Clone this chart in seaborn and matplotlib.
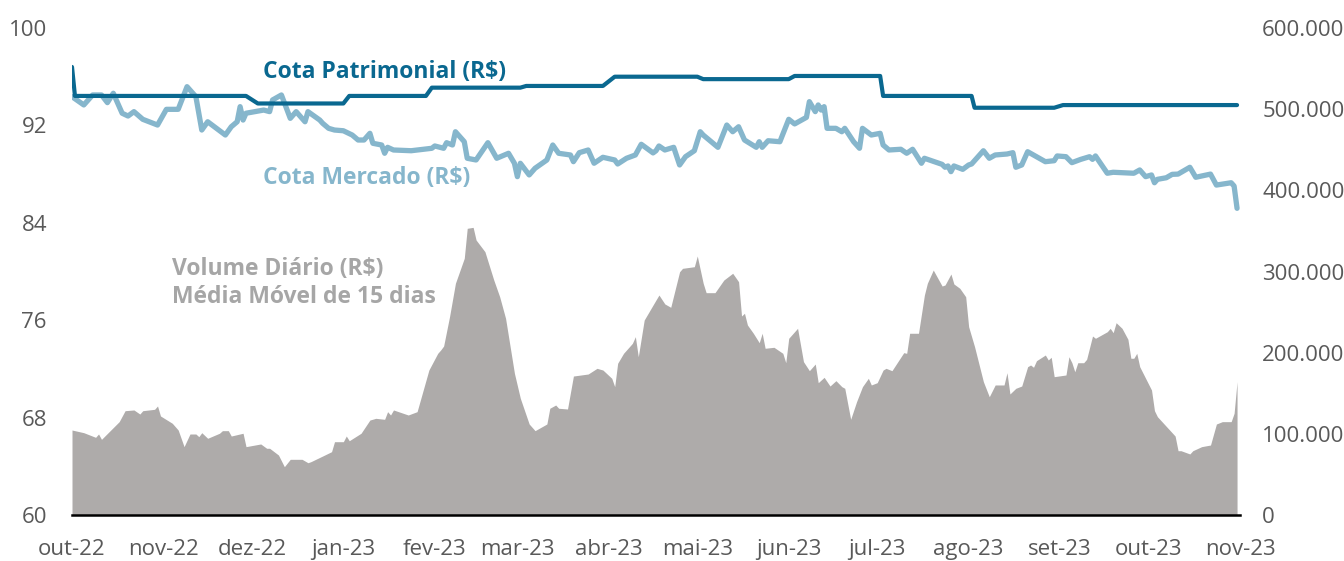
"""
Cota Patrimonial x Cota Mercado x Volume diário (média móvel 15 dias)
"""

import pandas as pd
import matplotlib
matplotlib.use('Agg')  # Non-interactive backend
import matplotlib.pyplot as plt
from matplotlib.ticker import FuncFormatter
import seaborn as sns

# Dias contados a partir de 01/10/2022
START = pd.Timestamp("2022-10-01")

patrimonial_day = [0, 1, 59, 63, 92, 94, 120, 122, 152, 154, 180, 184, 212, 214,
                   243, 245, 274, 275, 305, 306, 333, 336, 395]
patrimonial_value = [96.8, 94.42, 94.42, 93.8, 93.8, 94.42, 94.42, 95.1, 95.1, 95.24,
                     95.24, 96.0, 96.0, 95.8, 95.8, 96.06, 96.06, 94.42, 94.42, 93.45,
                     93.45, 93.67, 93.67]

mercado_day = [0, 4, 7, 10, 12, 14, 17, 19, 21, 24,
               29, 32, 36, 39, 42, 44, 46, 52, 54, 56,
               57, 58, 59, 65, 67, 68, 71, 74, 76, 79,
               80, 84, 85, 87, 89, 92, 95, 97, 99, 101,
               102, 105, 106, 107, 109, 115, 122, 123, 126, 127,
               129, 130, 133, 134, 137, 141, 144, 148, 150, 151,
               152, 155, 157, 161, 163, 165, 169, 170, 172, 175,
               177, 180, 184, 185, 188, 191, 193, 197, 198, 199,
               201, 204, 206, 208, 211, 213, 214, 219, 222, 224,
               226, 228, 232, 233, 234, 236, 240, 243, 245, 249,
               250, 252, 253, 254, 255, 256, 259, 261, 262, 265,
               267, 268, 271, 274, 275, 277, 281, 283, 285, 288,
               289, 295, 296, 297, 298, 299, 302, 304, 305, 309,
               311, 313, 317, 319, 320, 322, 324, 326, 330, 333,
               334, 337, 339, 342, 345, 346, 347, 351, 353, 360,
               362, 364, 366, 367, 368, 371, 373, 375, 379, 381,
               386, 388, 393, 394, 395]
mercado_value = [94.36, 93.68, 94.5, 94.5, 93.87, 94.64, 93.0, 92.77, 93.13, 92.5,
                 92.03, 93.32, 93.32, 95.18, 94.36, 91.62, 92.3, 91.21, 91.89, 92.3,
                 93.54, 92.44, 93.0, 93.26, 93.13, 94.09, 94.5, 92.58, 93.13, 92.3,
                 93.13, 92.44, 92.17, 91.76, 91.62, 91.56, 91.21, 90.8, 90.8, 91.35,
                 90.53, 90.39, 89.71, 90.2, 89.98, 89.92, 90.12, 90.31, 90.12, 90.58,
                 90.39, 91.48, 90.66, 89.3, 89.16, 90.58, 89.3, 89.71, 88.89, 87.79,
                 88.89, 87.93, 88.48, 89.16, 90.39, 89.71, 89.57, 89.02, 89.76, 89.98,
                 88.89, 89.38, 89.16, 88.83, 89.3, 89.57, 90.45, 89.74, 89.92, 90.31,
                 89.98, 90.2, 88.75, 89.43, 89.92, 91.48, 91.21, 90.2, 92.03, 91.48,
                 91.89, 90.8, 90.2, 90.66, 90.2, 90.74, 90.66, 92.5, 92.12, 92.66,
                 93.95, 93.13, 93.68, 93.26, 93.54, 91.76, 91.76, 91.48, 91.76, 90.66,
                 90.12, 91.76, 91.21, 91.35, 90.39, 89.98, 90.04, 89.71, 90.04, 88.89,
                 89.3, 88.8, 88.56, 88.67, 88.2, 88.67, 88.39, 88.75, 88.83, 89.92,
                 89.3, 89.57, 89.65, 89.76, 88.56, 88.75, 89.84, 89.57, 89.02, 89.1,
                 89.49, 89.43, 88.94, 89.21, 89.43, 89.21, 89.49, 88.07, 88.15, 88.07,
                 88.34, 87.79, 87.93, 87.29, 87.57, 87.7, 87.98, 88.0, 88.56, 87.74,
                 88.0, 87.1, 87.29, 87.02, 85.19]

volume_day = [0, 4, 8, 9, 10, 16, 18, 21, 23, 24,
              28, 29, 30, 34, 36, 38, 40, 42, 43, 44,
              46, 50, 51, 53, 54, 58, 59, 64, 66, 67,
              70, 72, 74, 78, 80, 81, 85, 88, 89, 92,
              93, 94, 98, 101, 103, 106, 107, 108, 109, 114,
              117, 121, 124, 125, 126, 128, 130, 133, 134, 136,
              137, 140, 143, 145, 147, 150, 152, 155, 157, 161,
              162, 164, 165, 168, 170, 175, 178, 180, 183, 184,
              185, 187, 190, 191, 192, 194, 198, 199, 201, 203,
              206, 207, 211, 212, 214, 215, 218, 221, 224, 226,
              227, 228, 229, 231, 233, 234, 235, 238, 241, 242,
              243, 246, 248, 250, 252, 253, 255, 257, 259, 261,
              262, 264, 266, 268, 270, 271, 273, 275, 276, 278,
              280, 282, 283, 284, 287, 289, 290, 292, 295, 296,
              298, 299, 301, 303, 304, 306, 309, 311, 313, 316,
              317, 318, 320, 322, 324, 325, 326, 327, 330, 331,
              332, 333, 337, 338, 339, 340, 341, 343, 344, 346,
              347, 351, 352, 353, 354, 356, 358, 359, 360, 361,
              362, 366, 367, 368, 374, 375, 376, 379, 380, 383,
              386, 388, 390, 393, 394, 395]
# volume em milhares de R$
volume_mil = [104.7, 101.4, 95.7, 99.8, 93.2, 115, 128.5, 129.4, 124.4, 128.5,
              130.2, 134.3, 122, 113, 104.7, 84.2, 99.8, 99.8, 96.5, 101.4,
              94.5, 100.7, 103.9, 103.9, 97.3, 100.7, 84.2, 87.5, 82.2, 82.2,
              73.9, 59.5, 68.6, 68.6, 64.4, 65.7, 72.7, 78, 90.3, 90.3,
              97.3, 91.5, 100.7, 117, 119.1, 117.9, 127.3, 123.2, 129.4, 123.2,
              127.3, 178.6, 199.2, 203.3, 208.2, 244.3, 285.5, 316.3, 353.2, 354.4,
              338.8, 324.4, 289.5, 268.9, 242.3, 174.6, 143.8, 112.1, 103.9, 112.1,
              131.5, 135.5, 131.5, 130.6, 171.2, 173.7, 180.7, 178.6, 168.4, 158.1,
              186.9, 199.2, 211.5, 219.7, 195, 240.2, 264.9, 271, 260, 255.9,
              299.7, 303.9, 305.9, 319.1, 285.5, 273.9, 273.9, 289.5, 297.8, 287.4,
              245.2, 248.5, 234.1, 223.9, 212.3, 223.9, 205.4, 206.6, 199.2, 187.6,
              217.7, 230, 188.9, 177.8, 186, 163, 169.6, 158.9, 165.5, 158.1,
              156.1, 117.9, 139.6, 158.1, 168.4, 160.2, 163, 178.6, 180.7, 177.8,
              188.9, 200, 199.2, 223.9, 223.9, 271, 285.5, 301.8, 282.1, 283.4,
              296.9, 284.6, 279.3, 268.9, 232, 207.4, 164.2, 145.7, 160.2, 160.2,
              175.3, 149.1, 156.1, 158.9, 182.7, 184.8, 182, 190.1, 197.1, 191,
              194.3, 170.4, 172.5, 195, 187.6, 176.5, 187.6, 187.6, 191.8, 220.5,
              217.7, 225.8, 230, 224.6, 236.9, 230, 216.5, 193.1, 193.1, 199.2,
              182.7, 154, 128.5, 121.1, 97.3, 79.2, 79.2, 75.2, 79.2, 84.2,
              86.2, 112.1, 115, 115, 125.3, 164.2]

month_labels = ['out-22', 'nov-22', 'dez-22', 'jan-23', 'fev-23', 'mar-23', 'abr-23',
                'mai-23', 'jun-23', 'jul-23', 'ago-23', 'set-23', 'out-23', 'nov-23']
left_ticks = [60, 68, 76, 84, 92, 100]
right_ticks = [0, 100000, 200000, 300000, 400000, 500000, 600000]

# Cores
COR_PATRIMONIAL = '#0A6890'
COR_MERCADO = '#86B6CC'
COR_VOLUME = '#AEABAA'
COR_TEXTO_VOLUME = '#A6A6A6'
COR_EIXO = '#595959'


def to_dates(days):
    return START + pd.to_timedelta(days, unit='D')


df_pat = pd.DataFrame({'data': to_dates(patrimonial_day), 'cota': patrimonial_value})
df_merc = pd.DataFrame({'data': to_dates(mercado_day), 'cota': mercado_value})
df_vol = pd.DataFrame({'data': to_dates(volume_day),
                       'volume': [v * 1000 for v in volume_mil]})
month_starts = pd.date_range(START, periods=len(month_labels), freq='MS')

sns.set_theme(style='white')
plt.rcParams['font.family'] = ['Open Sans', 'DejaVu Sans']

fig = plt.figure(figsize=(13.44, 5.61), dpi=100)
ax = fig.add_axes([72 / 1344, 46 / 561, 1168 / 1344, 487 / 561])
ax2 = ax.twinx()

# Volume (eixo direito), atrás das linhas
ax2.fill_between(df_vol['data'], df_vol['volume'], 0, color=COR_VOLUME, linewidth=0)
ax.set_zorder(ax2.get_zorder() + 1)
ax.patch.set_visible(False)

sns.lineplot(data=df_merc, x='data', y='cota', ax=ax, color=COR_MERCADO,
             linewidth=3.8, estimator=None, sort=False, legend=False)
sns.lineplot(data=df_pat, x='data', y='cota', ax=ax, color=COR_PATRIMONIAL,
             linewidth=3.0, estimator=None, sort=False, legend=False)

# Eixos
ax.set_xlim(month_starts[0], month_starts[-1])
ax.set_ylim(60, 100)
ax.set_yticks(left_ticks)
ax.set_xticks(month_starts)
ax.set_xticklabels(month_labels)
ax.set_xlabel('')
ax.set_ylabel('')
ax.tick_params(axis='both', length=0, labelsize=16, labelcolor=COR_EIXO)
ax.tick_params(axis='x', pad=17)
ax.tick_params(axis='y', pad=18)

ax2.set_ylim(0, 600000)
ax2.set_yticks(right_ticks)
ax2.yaxis.set_major_formatter(FuncFormatter(lambda v, p: f"{int(v):,}".replace(",", ".")))
ax2.tick_params(axis='y', length=0, labelsize=16, labelcolor=COR_EIXO, pad=16)

for a in (ax, ax2):
    for s in a.spines.values():
        s.set_visible(False)
ax.spines['bottom'].set_visible(True)
ax.spines['bottom'].set_color('black')
ax.spines['bottom'].set_linewidth(1.8)

# Rótulos das séries
ax.text(0.1635, 0.91, 'Cota Patrimonial (R$)', transform=ax.transAxes,
        color=COR_PATRIMONIAL, fontsize=16.5, fontweight='bold', va='center')
ax.text(0.1635, 0.692, 'Cota Mercado (R$)', transform=ax.transAxes,
        color=COR_MERCADO, fontsize=16.5, fontweight='bold', va='center')
ax.text(0.0856, 0.476, 'Volume Diário (R$)\nMédia Móvel de 15 dias', transform=ax.transAxes,
        color=COR_TEXTO_VOLUME, fontsize=16.5, fontweight='bold', va='center',
        linespacing=1.2)

fig.savefig('out.png', dpi=100)
plt.close(fig)
